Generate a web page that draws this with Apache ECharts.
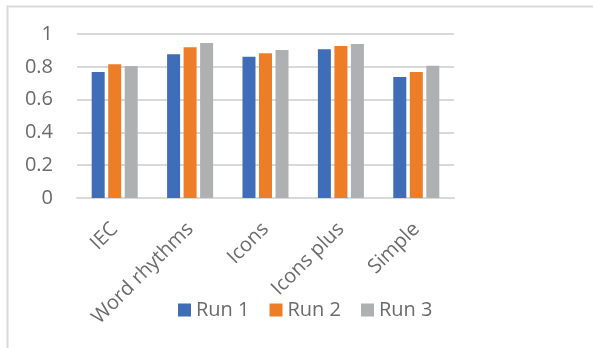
<!DOCTYPE html>
<html>
<head>
<meta charset="utf-8">
<script src="https://cdn.jsdelivr.net/npm/echarts@6/dist/echarts.min.js"></script>
<style>html,body{margin:0;padding:0;background:#fff;}#c{width:593px;height:348px;}</style>
</head>
<body>
<div id="c"></div>
<script>
const categories = ['IEC', 'Word rhythms', 'Icons', 'Icons plus', 'Simple'];
const run1 = [0.768, 0.876, 0.862, 0.907, 0.738];
const run2 = [0.815, 0.919, 0.882, 0.927, 0.768];
const run3 = [0.805, 0.945, 0.902, 0.939, 0.807];
const seriesNames = ['Run 1', 'Run 2', 'Run 3'];
const colors = ['#3F6DB7', '#ED7D27', '#AFB0B2'];
const FONT = 'Open Sans';

const chart = echarts.init(document.getElementById('c'), null, {renderer: 'canvas'});
const mk = (name, data, i) => ({
  name, type: 'bar', data,
  barWidth: 13, barGap: '27%',
  itemStyle: {color: colors[i]}
});
chart.setOption({
  animation: false,
  textStyle: {fontFamily: FONT},
  graphic: [{
    type: 'rect', left: 5, top: 4,
    shape: {x: 0, y: 0, width: 700, height: 500},
    style: {fill: 'none', stroke: '#D9D9D9', lineWidth: 2}
  }],
  grid: {left: 77, right: 139, top: 34, bottom: 150},
  legend: {
    data: seriesNames, top: 295, left: 173,
    itemWidth: 13, itemHeight: 13, itemGap: 20, icon: 'rect',
    textStyle: {color: '#6B6B6B', fontSize: 20, fontFamily: FONT}
  },
  xAxis: {
    type: 'category', data: categories,
    axisLine: {lineStyle: {color: '#D9D9D9', width: 2}},
    axisTick: {show: false},
    axisLabel: {rotate: 45, color: '#6B6B6B', fontSize: 20, fontFamily: FONT, margin: 28, interval: 0}
  },
  yAxis: {
    type: 'value', min: 0, max: 1, interval: 0.2,
    axisLabel: {color: '#6B6B6B', fontSize: 20, fontFamily: FONT, margin: 24,
      formatter: v => String(+v.toFixed(1))},
    splitLine: {lineStyle: {color: '#D9D9D9', width: 2}},
    axisLine: {show: false}, axisTick: {show: false}
  },
  series: [mk(seriesNames[0], run1, 0), mk(seriesNames[1], run2, 1), mk(seriesNames[2], run3, 2)]
});
</script>
</body>
</html>
